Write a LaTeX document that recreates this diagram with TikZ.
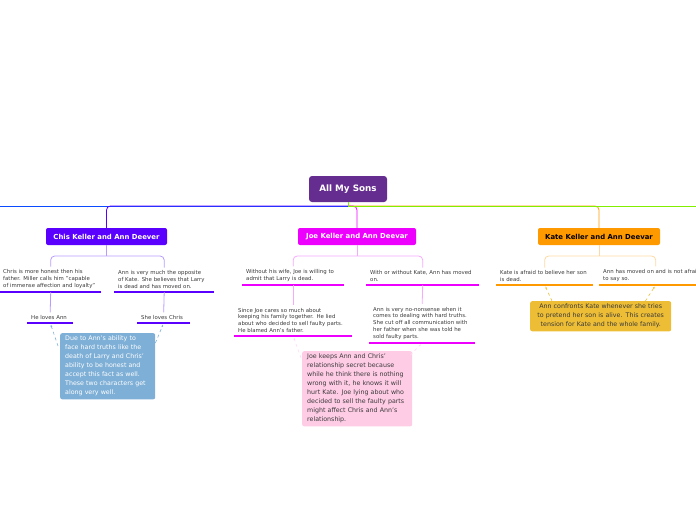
\documentclass[tikz,border=0pt]{standalone}
\usepackage{fontspec}
\setmainfont{DejaVu Sans}
\usepackage{tikz}
\usetikzlibrary{arrows.meta,calc}
\definecolor{Plum}{HTML}{662D91}
\definecolor{Violet}{HTML}{5A00FF}
\definecolor{PaleViolet}{HTML}{B79CFF}
\definecolor{Cobalt}{HTML}{0A4BFF}
\definecolor{Magenta}{HTML}{EE00FF}
\definecolor{PaleMagenta}{HTML}{F7A8FF}
\definecolor{Lime}{HTML}{80F000}
\definecolor{Amber}{HTML}{FF9900}
\definecolor{PaleAmber}{HTML}{FFD9A3}
\definecolor{Steel}{HTML}{7EAFD6}
\definecolor{Blush}{HTML}{FFCCE6}
\definecolor{Gold}{HTML}{EDBE35}
\definecolor{Ink}{HTML}{3A3A3A}

\begin{document}
\begin{tikzpicture}[x=1pt,y=-1pt,
  root/.style={fill=Plum,rounded corners=3pt,text=white,font=\fontsize{8.8}{10}\selectfont\bfseries,minimum width=78pt,minimum height=26pt},
  branch/.style={rounded corners=2pt,font=\fontsize{6.9}{8}\selectfont\bfseries,minimum height=17pt,inner xsep=0pt},
  topic/.style={anchor=south west,align=left,inner xsep=4pt,inner ysep=3pt,text=Ink,font=\fontsize{5.4}{6.9}\selectfont},
  note/.style={anchor=north west,rounded corners=2pt,inner xsep=5pt,inner ysep=3pt,font=\fontsize{6.3}{9}\selectfont},
  uline/.style={line width=2.4pt,#1},
  link/.style={line width=0.8pt,rounded corners=4pt,#1},
  hint/.style={dashed,line width=0.6pt,shorten >=1.5pt,-{Latex[length=2.5pt]},#1}
]
\clip (0,0) rectangle (696,520);

\node[root] (sons) at (348,189) {All My Sons};
\node[branch,fill=Violet,text=white,minimum width=121pt] (chisann) at (106.5,236.5) {Chis Keller and Ann Deever};
\node[branch,fill=Magenta,text=white,minimum width=118pt] (joeann) at (357,236.5) {Joe Keller and Ann Deevar};
\node[branch,fill=Amber,text=black,minimum width=122pt] (kateann) at (599,236.5) {Kate Keller and Ann Deevar};

\coordinate (hub) at (348,206);
\coordinate (westend) at (0,206);
\coordinate (eastend) at (700,206);
\draw[link=Cobalt] (hub) -- (westend);
\draw[link=Amber] (hub) -| (kateann.north);
\draw[link=Magenta] (hub) -| (joeann.north);
\draw[link=Lime,sharp corners] (sons.south) -- (hub) -- (eastend);
\draw[link=Violet] (hub) -| (chisann.north);

% Chris and Ann
\node[topic,inner xsep=3pt,text width=95pt] (honest) at (0,292) {Chris is more honest then his\\father. Miller calls him "capable\\of immense affection and loyalty"};
\node[topic,text width=92pt] (opposite) at (114,292) {Ann is very much the opposite\\of Kate. She believes that Larry\\is dead and has moved on.};
\node[topic,text width=38pt] (lovesann) at (27,323) {He loves Ann};
\node[topic,text width=45pt] (loveschris) at (137,323) {She loves Chris};
\foreach \n in {honest,opposite,lovesann,loveschris}
  \draw[uline=Violet] (\n.south west) -- (\n.south east);
\coordinate (fork1) at (106.5,256);
\draw[link=PaleViolet] (chisann.south) -- (fork1);
\draw[link=PaleViolet] (honest.north) |- (fork1) -| (opposite.north);
\draw[link=PaleViolet] (honest.south) -- (lovesann.north);
\draw[link=PaleViolet] (opposite.south) -- (loveschris.north);
\node[note,fill=Steel,text=white,text width=85pt] (dueto) at (60,333) {Due to Ann's ability to\\face hard truths like the\\death of Larry and Chris'\\ability to be honest and\\accept this fact as well.\\These two characters get\\along very well.};
\draw[hint=Steel] ([shift={(-2pt,-13pt)}]dueto.north west) -- (lovesann.south);
\draw[hint=Steel] ([shift={(0pt,-10pt)}]dueto.north east) -- (loveschris.south);

% Joe and Ann
\node[topic,text width=94pt] (without) at (242,285) {Without his wife, Joe is willing to\\admit that Larry is dead.};
\node[topic,text width=105pt] (withor) at (366,285) {With or without Kate, Ann has moved\\on.};
\node[topic,text width=110pt] (cares) at (234,336) {Since Joe cares so much about\\keeping his family together. He lied\\about who decided to sell faulty parts.\\He blamed Ann's father.};
\node[topic,text width=98pt] (nonsense) at (369,343) {Ann is very no-nonsense when it\\comes to dealing with hard truths.\\She cut off all communication with\\her father when she was told he\\sold faulty parts.};
\foreach \n in {without,withor,cares,nonsense}
  \draw[uline=Magenta] (\n.south west) -- (\n.south east);
\coordinate (fork2) at (357,256);
\draw[link=PaleMagenta] (joeann.south) -- (fork2);
\draw[link=PaleMagenta] (without.north) |- (fork2) -| (withor.north);
\draw[link=PaleMagenta] (without.south) -- (cares.north);
\draw[link=PaleMagenta] (withor.south) -- (nonsense.north);
\node[note,fill=Blush,text=Ink,text width=100pt] (secret) at (302,351) {Joe keeps Ann and Chris'\\relationship secret because\\while he think there is nothing\\wrong with it, he knows it will\\hurt Kate. Joe lying about who\\decided to sell the faulty parts\\might affect Chris and Ann's\\relationship.};
\draw[hint=Blush!80!Magenta!40] ([shift={(-1pt,-7pt)}]secret.north west) -- (cares.south);
\draw[hint=Blush!80!Magenta!40] ([shift={(-2pt,-4pt)}]secret.north east) -- (nonsense.south);

% Kate and Ann
\node[topic,text width=89pt] (afraid) at (496,285) {Kate is afraid to believe her son\\is dead.};
\node[topic,text width=105pt] (movedon) at (599,285) {Ann has moved on and is not afraid\\to say so.};
\foreach \n in {afraid,movedon}
  \draw[uline=Amber] (\n.south west) -- (\n.south east);
\coordinate (fork3) at (599,256);
\draw[link=PaleAmber] (kateann.south) -- (fork3);
\draw[link=PaleAmber] (afraid.north) |- (fork3) -| (movedon.north);
\node[note,fill=Gold,text=Ink,text width=132pt,inner xsep=4.5pt,align=center] (confronts) at (530,301) {Ann confronts Kate whenever she tries\\to pretend her son is alive. This creates\\tension for Kate and the whole family.};
\draw[hint=Gold] ([xshift=22pt]confronts.north west) -- (afraid.south);
\draw[hint=Gold] ([xshift=-26pt]confronts.north east) -- (movedon.south);
\end{tikzpicture}
\end{document}
